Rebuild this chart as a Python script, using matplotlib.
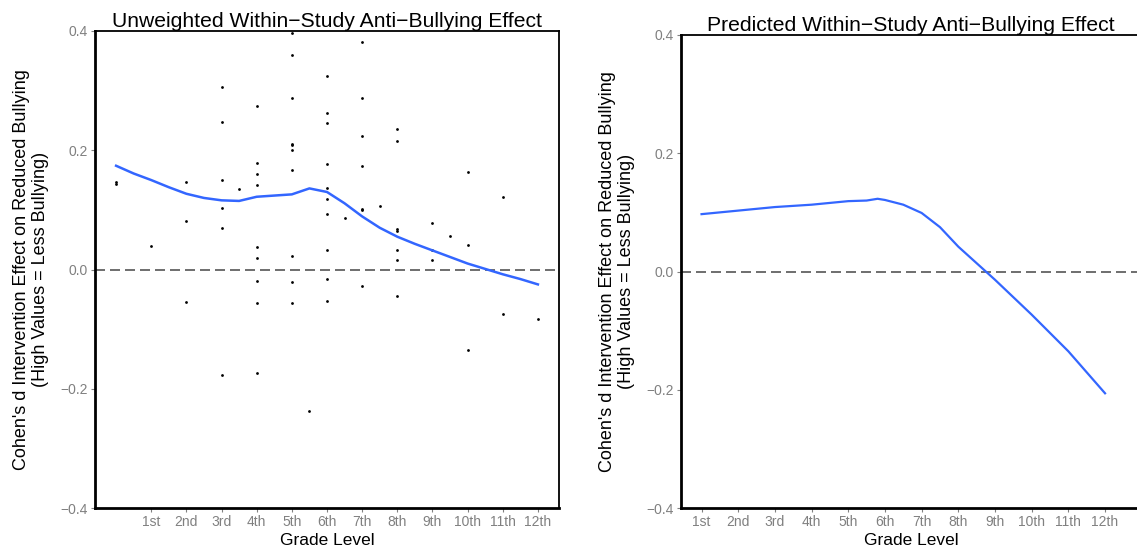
import matplotlib
matplotlib.use("Agg")
import matplotlib.pyplot as plt

plt.rcParams['font.family'] = ['Liberation Sans', 'DejaVu Sans']

# study effects (grade, Cohen's d)
study_grade = [0, 0, 1, 2, 2, 2,
               3, 3, 3, 3, 3, 3, 3.5,
               4, 4, 4, 4, 4, 4, 4, 4, 4,
               5, 5, 5, 5, 5, 5, 5, 5, 5, 5, 5.5,
               6, 6, 6, 6, 6, 6, 6, 6, 6, 6, 6.5,
               7, 7, 7, 7, 7, 7, 7, 7.5,
               8, 8, 8, 8, 8, 8, 8,
               9, 9, 9, 9.5,
               10, 10, 10, 11, 11, 12]
study_d = [0.147, 0.144, 0.040, 0.147, 0.082, -0.055,
           0.306, 0.248, 0.150, 0.103, 0.070, -0.177, 0.135,
           0.275, 0.178, 0.161, 0.142, 0.038, 0.020, -0.019, -0.056, -0.174,
           0.396, 0.360, 0.287, 0.211, 0.208, 0.200, 0.167, 0.023, -0.021, -0.056, -0.238,
           0.325, 0.263, 0.246, 0.177, 0.137, 0.118, 0.093, 0.032, -0.016, -0.053, 0.087,
           0.381, 0.287, 0.224, 0.174, 0.102, 0.100, -0.028, 0.107,
           0.236, 0.216, 0.068, 0.065, 0.032, 0.016, -0.045,
           0.078, 0.032, 0.016, 0.056,
           0.164, 0.041, -0.135, 0.122, -0.075, -0.083]

# loess fit (left panel)
smooth_grade = [0, 0.5, 1, 1.5, 2, 2.5, 3, 3.5, 4, 4.5, 5, 5.5, 6,
                6.5, 7, 7.5, 8, 8.5, 9, 9.5, 10, 10.5, 11, 11.5, 12]
smooth_d = [0.174, 0.161, 0.150, 0.138, 0.127, 0.120, 0.116, 0.115, 0.122, 0.124, 0.126, 0.136, 0.130,
            0.111, 0.089, 0.070, 0.055, 0.043, 0.032, 0.021, 0.010, 0.001, -0.008, -0.016, -0.025]

# predicted effect (right panel)
pred_grade = [1, 2, 3, 4, 5, 5.5, 5.8, 6, 6.5, 7, 7.5, 8, 9, 10, 11, 12]
pred_d = [0.097, 0.103, 0.109, 0.113, 0.119, 0.120, 0.123, 0.121, 0.113, 0.099, 0.075,
          0.042, -0.014, -0.073, -0.135, -0.206]

grade_ticks = list(range(1, 13))
grade_labels = ['1st', '2nd', '3rd', '4th', '5th', '6th', '7th', '8th', '9th', '10th', '11th', '12th']
y_ticks = [-0.4, -0.2, 0.0, 0.2, 0.4]

ylabel = "Cohen's d Intervention Effect on Reduced Bullying\n(High Values = Less Bullying)"
line_col = '#3366FF'
tick_grey = '#808080'

fig = plt.figure(figsize=(11.37, 5.55), dpi=100)
W, H = 1137, 555
ax1 = fig.add_axes([95 / W, 1 - 508 / H, 464 / W, 477 / H])
ax2 = fig.add_axes([681 / W, 1 - 508 / H, 460 / W, 473 / H])


def style_axis(ax, title):
    ax.set_ylim(-0.4, 0.4)
    ax.set_yticks(y_ticks)
    ax.set_yticklabels([f'{v:.1f}'.replace('-', '\u2212') for v in y_ticks])
    ax.set_xticks(grade_ticks)
    ax.set_xticklabels(grade_labels)
    ax.tick_params(axis='both', colors=tick_grey, labelcolor=tick_grey,
                   labelsize=10, length=3, width=0.8, pad=2)
    for side in ['left', 'bottom']:
        ax.spines[side].set_linewidth(2)
    for side in ['top', 'right']:
        ax.spines[side].set_linewidth(1.3)
    ax.axhline(0, color='#555555', linestyle=(0, (6, 3)), linewidth=1.2, zorder=1)
    ax.set_xlabel('Grade Level', fontsize=12.5, labelpad=3)
    ax.set_ylabel(ylabel, fontsize=13, labelpad=8, linespacing=1.2)
    ax.set_title(title, fontsize=15.2, pad=2)


# 왼쪽: 연구별 효과 + loess
ax1.scatter(study_grade, study_d, s=4, color='black', zorder=3, linewidths=0)
ax1.plot(smooth_grade, smooth_d, color=line_col, linewidth=1.8, zorder=4)
ax1.set_xlim(-0.6, 12.6)
style_axis(ax1, 'Unweighted Within\u2212Study Anti\u2212Bullying Effect')

# 오른쪽: 예측 효과
ax2.plot(pred_grade, pred_d, color=line_col, linewidth=1.6, zorder=4)
ax2.set_xlim(0.44, 12.98)
style_axis(ax2, 'Predicted Within\u2212Study Anti\u2212Bullying Effect')
ax2.spines['right'].set_visible(False)

fig.savefig('out.png', dpi=100)
